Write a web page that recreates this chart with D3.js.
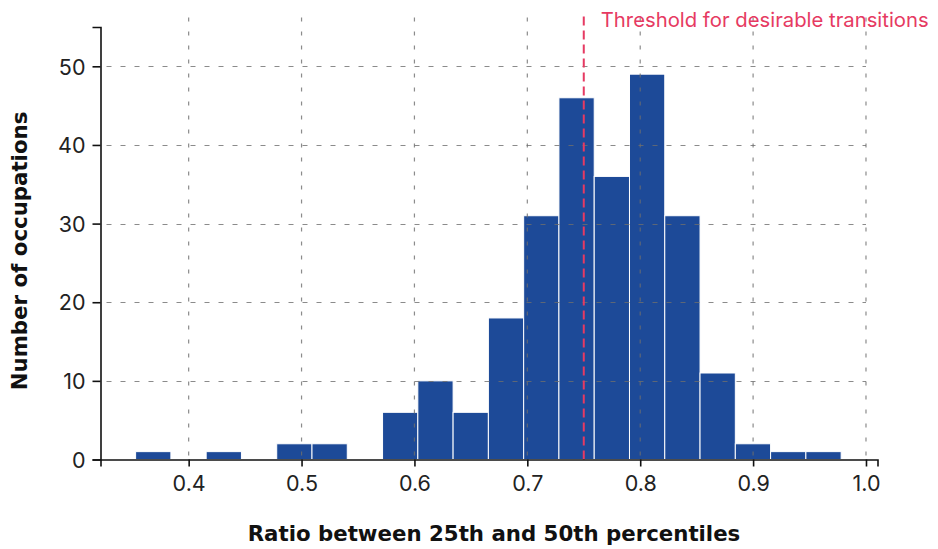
<!DOCTYPE html>
<html>
<head>
<meta charset="utf-8">
<script src="https://cdn.jsdelivr.net/npm/d3@7"></script>
<style>
  html, body { margin: 0; padding: 0; background: #fff; }
  svg { display: block; }
  text { font-family: Inter, "Open Sans", sans-serif; }
</style>
</head>
<body>
<svg id="chart" width="938" height="549"></svg>
<script>
// Histogram of occupations by the ratio of 25th to 50th percentile wages
const binStart = 0.353;
const binWidth = 0.03125;
const counts = [1, 0, 1, 0, 2, 2, 0, 6, 10, 6, 18, 31, 46, 36, 49, 31, 11, 2, 1, 1];
const xTicks = [0.4, 0.5, 0.6, 0.7, 0.8, 0.9, 1.0];
const yTicks = [0, 10, 20, 30, 40, 50];
const threshold = 0.75;
const thresholdLabel = "Threshold for desirable transitions";
const xLabel = "Ratio between 25th and 50th percentiles";
const yLabel = "Number of occupations";

const bins = counts.map((c, i) => ({
  x0: binStart + i * binWidth,
  x1: binStart + (i + 1) * binWidth,
  count: c
}));

const svg = d3.select("#chart");
const plotLeft = 100.5, plotRight = 877.5, plotTop = 27, plotBottom = 459.5;

const x = d3.scaleLinear().domain([0.3219, 1.0102]).range([plotLeft, plotRight]);
const y = d3.scaleLinear().domain([0, 55]).range([plotBottom, plotTop]);

// bars
svg.append("g").selectAll("rect")
  .data(bins.filter(d => d.count > 0))
  .join("rect")
  .attr("x", d => x(d.x0))
  .attr("width", d => x(d.x1) - x(d.x0))
  .attr("y", d => y(d.count))
  .attr("height", d => y(0) - y(d.count))
  .attr("fill", "#1d4a98")
  .attr("stroke", "#ffffff")
  .attr("stroke-width", 1);

// grid lines drawn over the bars
const grid = svg.append("g")
  .attr("stroke", "#6e6e6e")
  .attr("stroke-opacity", 0.8)
  .attr("stroke-width", 1.2);

grid.selectAll("line.h")
  .data(yTicks.filter(t => t > 0))
  .join("line")
  .attr("class", "h")
  .attr("x1", plotLeft + 6)
  .attr("x2", x(1.0))
  .attr("y1", d => Math.round(y(d)) + 0.5)
  .attr("y2", d => Math.round(y(d)) + 0.5)
  .attr("stroke-dasharray", "5,9");

grid.selectAll("line.v")
  .data(xTicks)
  .join("line")
  .attr("class", "v")
  .attr("x1", d => x(d))
  .attr("x2", d => x(d))
  .attr("y1", y(0) - 4)
  .attr("y2", y(56.9))
  .attr("stroke-dasharray", "4,10");

// threshold marker
svg.append("line")
  .attr("x1", x(threshold))
  .attr("x2", x(threshold))
  .attr("y1", y(0))
  .attr("y2", y(56.9))
  .attr("stroke", "#e63a62")
  .attr("stroke-width", 2)
  .attr("stroke-dasharray", "9,5");

svg.append("text")
  .attr("x", x(threshold) + 17)
  .attr("y", 27)
  .attr("fill", "#e63a62")
  .attr("font-size", 20.3)
  .text(thresholdLabel);

// axes
const xAxis = d3.axisBottom(x).tickValues(xTicks).tickFormat(d3.format(".1f")).tickSize(7).tickPadding(9);
const yAxis = d3.axisLeft(y).tickValues(yTicks).tickFormat(d3.format("d")).tickSize(8).tickPadding(7);

const gx = svg.append("g").attr("transform", `translate(0,${plotBottom})`).call(xAxis);
const gy = svg.append("g").attr("transform", `translate(${plotLeft},0)`).call(yAxis);

[gx, gy].forEach(g => {
  g.select(".domain").attr("stroke", "#111").attr("stroke-width", 1.6);
  g.selectAll(".tick line").attr("stroke", "#111").attr("stroke-width", 1.6);
  g.selectAll(".tick text")
    .attr("fill", "#222")
    .attr("font-size", 21.5)
    .style("font-family", "Inter, sans-serif");
});
gy.selectAll(".tick text").attr("dy", "0.36em");

// axis titles
svg.append("text")
  .attr("x", 494)
  .attr("y", 541)
  .attr("text-anchor", "middle")
  .attr("font-size", 21.3)
  .attr("font-weight", 700)
  .attr("fill", "#111")
  .style("font-family", "'DejaVu Sans', sans-serif")
  .text(xLabel);

svg.append("text")
  .attr("transform", "translate(27,251) rotate(-90)")
  .attr("text-anchor", "middle")
  .attr("font-size", 21.3)
  .attr("font-weight", 700)
  .attr("fill", "#111")
  .style("font-family", "'DejaVu Sans', sans-serif")
  .text(yLabel);
</script>
</body>
</html>
